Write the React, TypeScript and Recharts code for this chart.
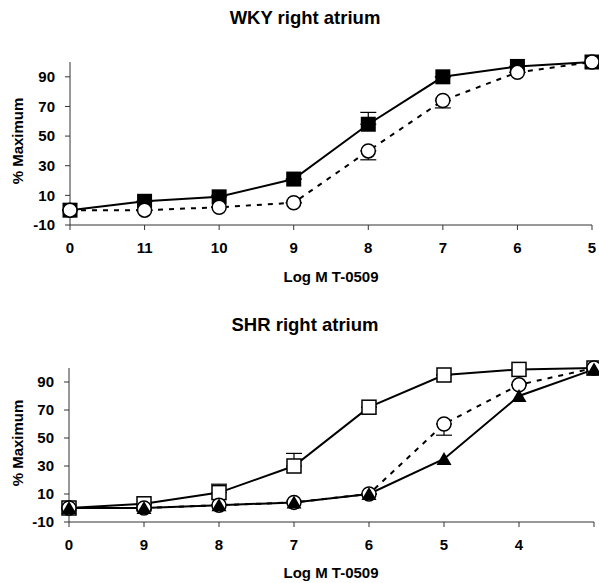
import React from 'react';
import { LineChart, Line, XAxis, YAxis, ErrorBar } from 'recharts';

// ---- WKY right atrium ----
const wkyDoses = ['0', '11', '10', '9', '8', '7', '6', '5'];
const wkySquares = [0, 6, 9, 21, 58, 90, 97, 100];
const wkySquaresErr = [[0, 0], [0, 0], [0, 1], [0, 0], [0, 8], [0, 0], [0, 0], [0, 0]];
const wkyCircles = [0, 0, 2, 5, 40, 74, 93, 100];
const wkyCirclesErr = [[0, 0], [0, 0], [0, 0], [0, 0], [6, 0], [5, 0], [0, 0], [0, 0]];

// ---- SHR right atrium ----
const shrDoses = ['0', '9', '8', '7', '6', '5', '4', ''];
const shrSquares = [0, 3, 11, 30, 72, 95, 99, 100];
const shrSquaresErr = [[0, 0], [0, 0], [0, 6], [0, 9], [0, 0], [0, 0], [0, 0], [0, 0]];
const shrCircles = [0, 0, 2, 4, 10, 60, 88, 100];
const shrCirclesErr = [[0, 0], [0, 0], [0, 0], [0, 0], [0, 0], [8, 0], [0, 0], [0, 0]];
const shrTriangles = [0, 0, 2, 4, 10, 35, 80, 99];

const yTicks = [-10, 10, 30, 50, 70, 90];

const wkyData = wkyDoses.map((d, i) => ({
  dose: d,
  sq: wkySquares[i],
  sqErr: wkySquaresErr[i],
  ci: wkyCircles[i],
  ciErr: wkyCirclesErr[i],
}));

const shrData = shrDoses.map((d, i) => ({
  dose: d,
  sq: shrSquares[i],
  sqErr: shrSquaresErr[i],
  ci: shrCircles[i],
  ciErr: shrCirclesErr[i],
  tr: shrTriangles[i],
}));

const FONT = '"Liberation Sans", Arial, Helvetica, sans-serif';
const tickStyle = { fontSize: 15, fontWeight: 700, fill: '#000', fontFamily: FONT };

const FilledSquare = (p: any) => {
  if (p.cx == null || p.cy == null) return <g key={p.index} />;
  return <rect key={p.index} x={p.cx - 7.5} y={p.cy - 7.5} width={15} height={15} fill="#000" />;
};
const OpenSquare = (p: any) => {
  if (p.cx == null || p.cy == null) return <g key={p.index} />;
  return <rect key={p.index} x={p.cx - 7} y={p.cy - 7} width={14} height={14} fill="#fff" stroke="#000" strokeWidth={1.5} />;
};
const OpenCircle = (p: any) => {
  if (p.cx == null || p.cy == null) return <g key={p.index} />;
  return <circle key={p.index} cx={p.cx} cy={p.cy} r={7} fill="#fff" stroke="#000" strokeWidth={1.5} />;
};
const FilledTriangle = (p: any) => {
  if (p.cx == null || p.cy == null) return <g key={p.index} />;
  const { cx, cy } = p;
  return <polygon key={p.index} points={`${cx},${cy - 7} ${cx + 7.5},${cy + 6} ${cx - 7.5},${cy + 6}`} fill="#000" />;
};

const yLabel = (cx: number, cy: number) => () => (
  <text
    x={cx}
    y={cy}
    transform={`rotate(-90 ${cx} ${cy})`}
    textAnchor="middle"
    dominantBaseline="central"
    style={{ fontSize: 15, fontWeight: 700, fontFamily: FONT, fill: '#000' }}
  >
    % Maximum
  </text>
);
const xLabel = (cx: number, cy: number) => () => (
  <text
    x={cx}
    y={cy}
    textAnchor="middle"
    dominantBaseline="central"
    style={{ fontSize: 15, fontWeight: 700, fontFamily: FONT, fill: '#000' }}
  >
    Log M T-0509
  </text>
);

const titleStyle = (top: number): React.CSSProperties => ({
  position: 'absolute',
  left: 0,
  width: 610,
  top,
  textAlign: 'center',
  fontFamily: FONT,
  fontWeight: 700,
  fontSize: 18.5,
  lineHeight: '22px',
  color: '#000',
});

export default function App() {
  return (
    <div style={{ position: 'absolute', left: 0, top: 0, width: 599, height: 583, background: '#fff' }}>
      <div style={titleStyle(7)}>WKY right atrium</div>
      <div style={{ position: 'absolute', left: 0, top: 0 }}>
        <LineChart width={599} height={290} data={wkyData} margin={{ top: 62, right: 7, bottom: 0, left: 0 }}>
          <XAxis
            dataKey="dose"
            interval={0}
            tick={tickStyle}
            tickSize={5}
            tickMargin={12}
            stroke="#333"
            height={65}
            label={{ content: xLabel(331, 276) }}
          />
          <YAxis
            type="number"
            domain={[-10, 100]}
            ticks={yTicks}
            interval={0}
            width={70}
            tick={tickStyle}
            tickSize={5}
            tickMargin={10}
            stroke="#333"
            label={{ content: yLabel(17, 141) }}
          />
          <Line
            dataKey="sq"
            stroke="#000"
            strokeWidth={2}
            dot={FilledSquare}
            activeDot={false}
            isAnimationActive={false}
          >
            <ErrorBar dataKey="sqErr" width={8} stroke="#000" strokeWidth={1.2} direction="y" />
          </Line>
          <Line
            dataKey="ci"
            stroke="#000"
            strokeWidth={2}
            strokeDasharray="5 6"
            dot={OpenCircle}
            activeDot={false}
            isAnimationActive={false}
          >
            <ErrorBar dataKey="ciErr" width={8} stroke="#000" strokeWidth={1.2} direction="y" />
          </Line>
        </LineChart>
      </div>

      <div style={titleStyle(314)}>SHR right atrium</div>
      <div style={{ position: 'absolute', left: 0, top: 290 }}>
        <LineChart width={599} height={293} data={shrData} margin={{ top: 78, right: 5, bottom: 0, left: 0 }}>
          <XAxis
            dataKey="dose"
            interval={0}
            tick={tickStyle}
            tickSize={5}
            tickMargin={12}
            stroke="#333"
            height={61}
            label={{ content: xLabel(331, 282) }}
          />
          <YAxis
            type="number"
            domain={[-10, 100]}
            ticks={yTicks}
            interval={0}
            width={69}
            tick={tickStyle}
            tickSize={5}
            tickMargin={10}
            stroke="#333"
            label={{ content: yLabel(17, 153) }}
          />
          <Line
            dataKey="sq"
            stroke="#000"
            strokeWidth={2}
            dot={OpenSquare}
            activeDot={false}
            isAnimationActive={false}
          >
            <ErrorBar dataKey="sqErr" width={8} stroke="#000" strokeWidth={1.2} direction="y" />
          </Line>
          <Line
            dataKey="ci"
            stroke="#000"
            strokeWidth={2}
            strokeDasharray="5 6"
            dot={OpenCircle}
            activeDot={false}
            isAnimationActive={false}
          >
            <ErrorBar dataKey="ciErr" width={8} stroke="#000" strokeWidth={1.2} direction="y" />
          </Line>
          <Line
            dataKey="tr"
            stroke="#000"
            strokeWidth={2}
            dot={FilledTriangle}
            activeDot={false}
            isAnimationActive={false}
          />
        </LineChart>
      </div>
    </div>
  );
}
